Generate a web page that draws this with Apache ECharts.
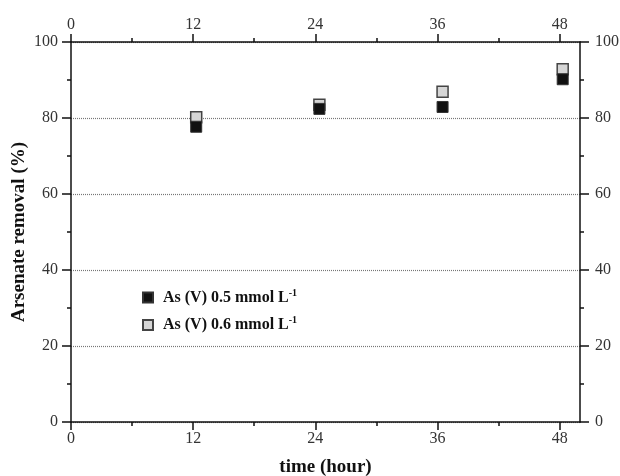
<!DOCTYPE html>
<html>
<head>
<meta charset="utf-8">
<script src="https://cdn.jsdelivr.net/npm/echarts@6/dist/echarts.min.js"></script>
<style>
  html, body { margin: 0; padding: 0; background: #fff; }
  #chart { width: 620px; height: 476px; }
</style>
</head>
<body>
<div id="chart"></div>
<script>
// values
var timeHours = [12.3, 24.4, 36.5, 48.3]
var removal05 = [77.7, 82.4, 82.9, 90.2]
var removal06 = [80.2, 83.5, 86.9, 92.8]
var xMajorTicks = [0, 12, 24, 36, 48]
var xMinorTicks = [6, 18, 30, 42]
var seriesNames = ['As (V) 0.5 mmol L', 'As (V) 0.6 mmol L']

var serif = 'Liberation Serif'

function pairs(xs, ys) {
    return xs.map(function (x, i) { return [x, ys[i]] })
}

function majorX(pos, showName) {
    return {
        type: 'value', position: pos, min: 0, max: 50,
        name: showName ? 'time (hour)' : '', nameLocation: 'middle', nameGap: 36,
        nameMoveOverlap: false,
        nameTextStyle: { fontFamily: serif, fontWeight: 'bold', fontSize: 19, color: '#111' },
        axisLine: { show: true, onZero: false, lineStyle: { color: '#111', width: 1.5 } },
        axisTick: { show: true, inside: false, length: 8, customValues: xMajorTicks, lineStyle: { color: '#111', width: 1.5 } },
        axisLabel: { show: true, customValues: xMajorTicks, margin: 9, fontFamily: serif, fontSize: 16, color: '#333' },
        splitLine: { show: false }
    }
}

function minorX(pos) {
    return {
        type: 'value', position: pos, min: 0, max: 50,
        axisLine: { show: false, onZero: false },
        axisTick: { show: true, length: 4, customValues: xMinorTicks, lineStyle: { color: '#111', width: 1.5 } },
        axisLabel: { show: false },
        splitLine: { show: false }
    }
}

function yAxis(pos, grid) {
    return {
        type: 'value', position: pos, min: 0, max: 100, interval: 20,
        name: grid ? 'Arsenate removal (%)' : '', nameLocation: 'middle', nameGap: 42,
        nameMoveOverlap: false,
        nameTextStyle: { fontFamily: serif, fontWeight: 'bold', fontSize: 19, color: '#111' },
        axisLine: { show: true, onZero: false, lineStyle: { color: '#111', width: 1.5 } },
        axisTick: { show: true, length: 9, lineStyle: { color: '#111', width: 1.5 } },
        minorTick: { show: true, splitNumber: 2, length: 4, lineStyle: { color: '#111', width: 1.5 } },
        axisLabel: { margin: grid ? 13 : 15, fontFamily: serif, fontSize: 16, color: '#333' },
        splitLine: { show: grid, lineStyle: { color: '#777', type: [1, 1], width: 1.2 } }
    }
}

var chart = echarts.init(document.getElementById('chart'))
chart.setOption({
    animation: false,
    backgroundColor: '#fff',
    grid: { left: 71, right: 40, top: 42, bottom: 54, containLabel: false, outerBoundsMode: 'none' },
    legend: {
        orient: 'vertical', left: 137, top: 283,
        itemWidth: 10, itemHeight: 10, itemGap: 10,
        data: seriesNames,
        formatter: function (name) { return '{t|' + name + '}{s|-1}' },
        textStyle: {
            rich: {
                t: { fontFamily: serif, fontWeight: 'bold', fontSize: 16, color: '#111', padding: [0, 0, 0, 5] },
                s: { fontFamily: serif, fontWeight: 'bold', fontSize: 10, color: '#111', verticalAlign: 'top', padding: [0, 0, 9, 0] }
            }
        }
    },
    xAxis: [majorX('bottom', true), minorX('bottom'), majorX('top', false), minorX('top')],
    yAxis: [yAxis('left', true), yAxis('right', false)],
    series: [
        {
            name: seriesNames[1], type: 'scatter', symbol: 'rect', symbolSize: 11,
            itemStyle: { color: '#d6d6d6', borderColor: '#444', borderWidth: 1.5, opacity: 1 },
            data: pairs(timeHours, removal06)
        },
        {
            name: seriesNames[0], type: 'scatter', symbol: 'rect', symbolSize: 11,
            itemStyle: { color: '#111', borderColor: '#333', borderWidth: 1, opacity: 1 },
            data: pairs(timeHours, removal05)
        }
    ]
})
</script>
</body>
</html>
